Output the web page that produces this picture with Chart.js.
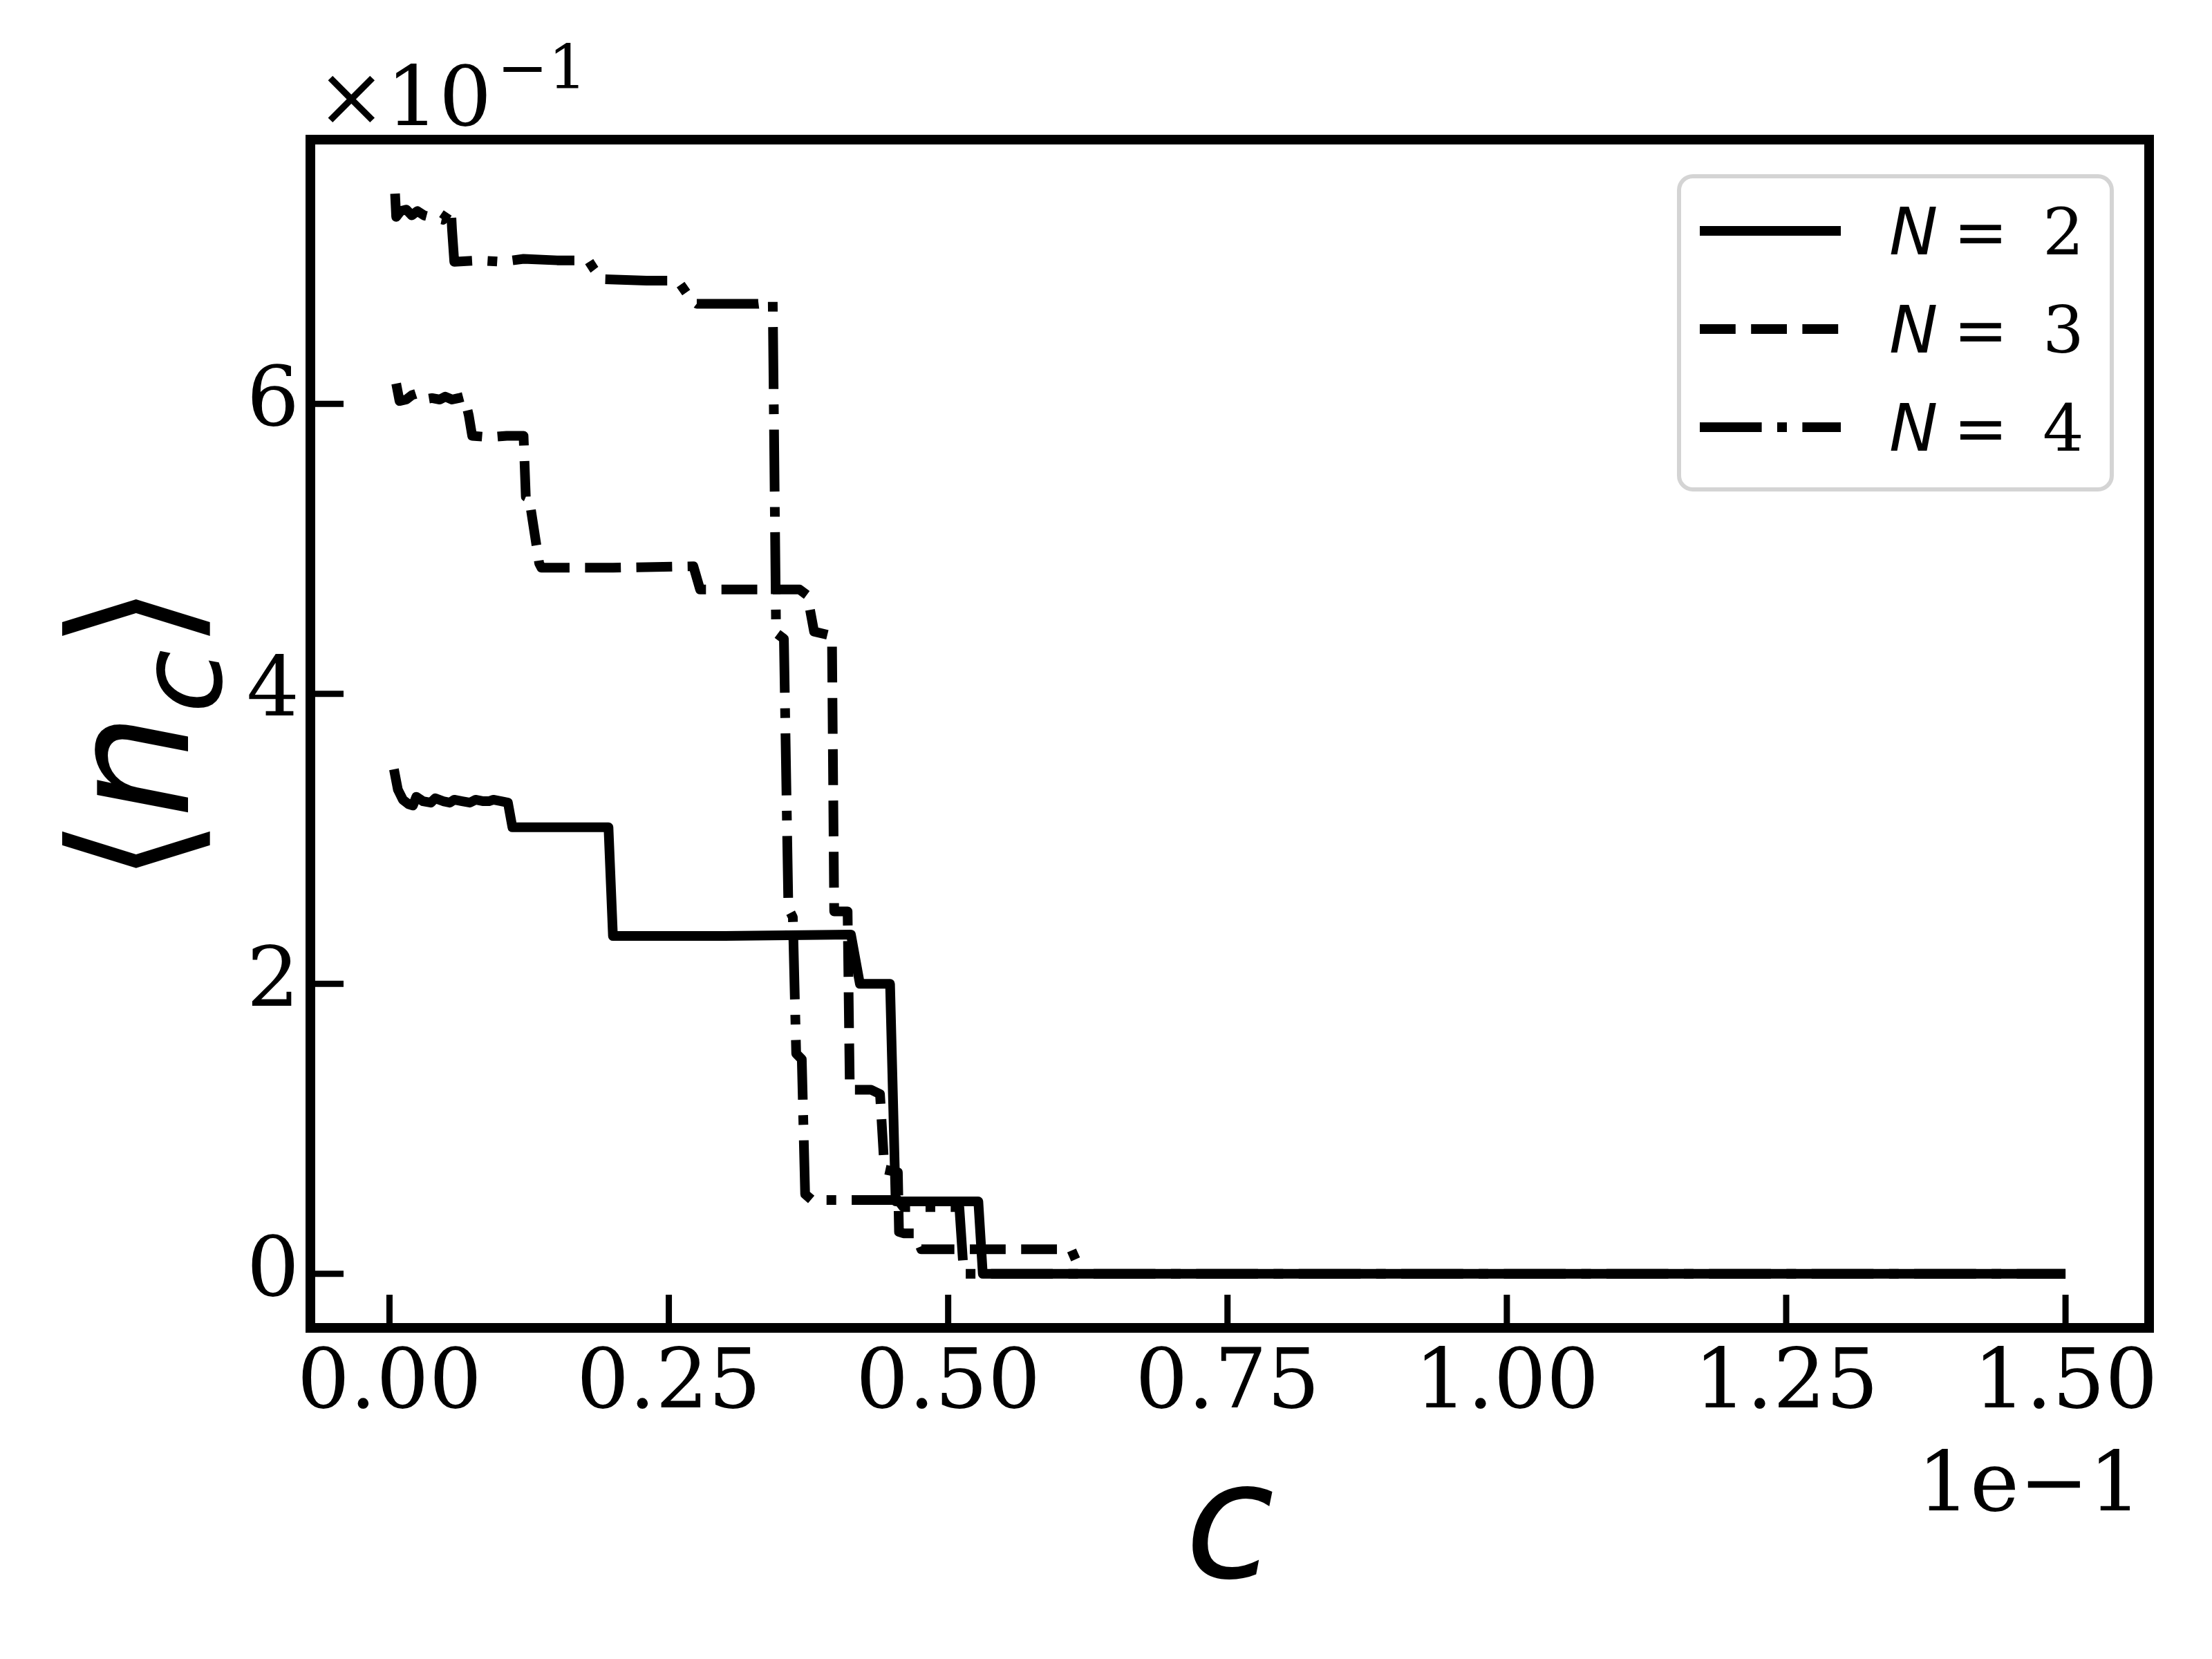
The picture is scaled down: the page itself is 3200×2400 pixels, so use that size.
<!DOCTYPE html>
<html>
<head>
<meta charset="utf-8">
<script src="https://cdn.jsdelivr.net/npm/chart.js@4.4.0/dist/chart.umd.min.js"></script>
<style>
    html, body { margin: 0; padding: 0; background: #fff; overflow: hidden; }
    canvas { display: block; }
</style>
</head>
<body>
<canvas id="myChart" width="3200" height="2400"></canvas>
<script>
// nilai (satuan sumbu: x dalam 1e-1, y dalam 1e-1)
const cN2 = [0.004, 0.0075, 0.012, 0.017, 0.021, 0.024, 0.030, 0.037, 0.041, 0.048, 0.054, 0.058, 0.065, 0.072, 0.077, 0.084, 0.089, 0.093, 0.100, 0.106, 0.110, 0.150, 0.196, 0.200, 0.300, 0.413, 0.421, 0.448, 0.453, 0.527, 0.531, 1.500];
const nN2 = [3.48, 3.34, 3.27, 3.24, 3.23, 3.29, 3.26, 3.25, 3.28, 3.26, 3.25, 3.27, 3.26, 3.25, 3.27, 3.26, 3.26, 3.27, 3.26, 3.25, 3.08, 3.08, 3.08, 2.33, 2.33, 2.34, 2.00, 2.00, 0.50, 0.50, 0.00, 0.00];

const cN3 = [0.006, 0.009, 0.015, 0.020, 0.024, 0.030, 0.038, 0.045, 0.050, 0.056, 0.062, 0.067, 0.071, 0.074, 0.090, 0.105, 0.120, 0.122, 0.125, 0.134, 0.136, 0.200, 0.272, 0.278, 0.320, 0.367, 0.374, 0.380, 0.396, 0.398, 0.410, 0.412, 0.431, 0.439, 0.443, 0.455, 0.456, 0.460, 0.470, 0.476, 0.610, 0.614];
const nN3 = [6.14, 6.02, 6.03, 6.06, 6.07, 6.03, 6.04, 6.03, 6.05, 6.03, 6.04, 6.05, 5.92, 5.78, 5.77, 5.78, 5.78, 5.36, 5.35, 4.90, 4.87, 4.87, 4.88, 4.72, 4.72, 4.72, 4.68, 4.43, 4.40, 2.50, 2.50, 1.27, 1.27, 1.24, 0.72, 0.70, 0.29, 0.28, 0.28, 0.17, 0.17, 0.10];

const cN4 = [0.005, 0.006, 0.010, 0.015, 0.020, 0.025, 0.031, 0.036, 0.048, 0.055, 0.056, 0.058, 0.080, 0.100, 0.120, 0.150, 0.178, 0.183, 0.190, 0.230, 0.258, 0.270, 0.275, 0.330, 0.340, 0.343, 0.346, 0.353, 0.357, 0.361, 0.364, 0.369, 0.372, 0.378, 0.455, 0.460, 0.510, 0.514, 1.500];
const nN4 = [7.45, 7.29, 7.33, 7.34, 7.30, 7.33, 7.30, 7.29, 7.27, 7.35, 7.20, 6.98, 6.99, 6.98, 7.00, 6.99, 6.99, 6.93, 6.86, 6.85, 6.85, 6.72, 6.69, 6.69, 6.70, 6.71, 4.42, 4.38, 2.52, 2.46, 1.52, 1.48, 0.55, 0.51, 0.51, 0.46, 0.46, 0.00, 0.00];

const nValues = [2, 3, 4];
const xTicks = [0, 0.25, 0.5, 0.75, 1.0, 1.25, 1.5];
const yTicks = [0, 2, 4, 6];

const LW = 14;
const dashStyles = [[], [3.7 * LW, 1.6 * LW], [6.4 * LW, 1.6 * LW, 1 * LW, 1.6 * LW]];

// batas sumbu seperti matplotlib (margin 5%)
const allX = cN2.concat(cN3, cN4);
const allY = nN2.concat(nN3, nN4);
const xLo = Math.min(...allX), xHi = Math.max(...allX);
const yLo = Math.min(...allY), yHi = Math.max(...allY);
const xPad = 0.05 * (xHi - xLo), yPad = 0.05 * (yHi - yLo);

function toPoints(xs, ys) {
    return xs.map((x, i) => ({ x: x, y: ys[i] }));
}

const series = [toPoints(cN2, nN2), toPoints(cN3, nN3), toPoints(cN4, nN4)];

// bingkai, tick ke dalam, teks offset, label sumbu dan legenda
const decorPlugin = {
    id: 'decor',
    afterDraw(chart) {
        const ctx = chart.ctx;
        const a = chart.chartArea;
        const xs = chart.scales.x, ys = chart.scales.y;
        ctx.save();
        ctx.strokeStyle = '#000';
        ctx.fillStyle = '#000';

        // tick
        ctx.lineWidth = 9;
        ctx.lineCap = 'butt';
        xTicks.forEach(v => {
            const px = xs.getPixelForValue(v);
            ctx.beginPath();
            ctx.moveTo(px, a.bottom);
            ctx.lineTo(px, a.bottom - 48);
            ctx.stroke();
        });
        yTicks.forEach(v => {
            const py = ys.getPixelForValue(v);
            ctx.beginPath();
            ctx.moveTo(a.left, py);
            ctx.lineTo(a.left + 48, py);
            ctx.stroke();
        });

        // bingkai
        ctx.lineWidth = 14;
        ctx.lineJoin = 'miter';
        ctx.strokeRect(a.left, a.top, a.right - a.left, a.bottom - a.top);

        // teks offset
        ctx.textAlign = 'left';
        ctx.textBaseline = 'alphabetic';
        ctx.font = '120px "DejaVu Serif"';
        ctx.fillText('\u00d710', 458, 181);
        const w10 = ctx.measureText('\u00d710').width;
        ctx.font = '88px "DejaVu Serif"';
        ctx.fillText('\u22121', 458 + w10 + 8, 128);

        ctx.font = '120px "DejaVu Serif"';
        ctx.textAlign = 'right';
        ctx.fillText('1e\u22121', 3098, 2185);

        // label sumbu x
        ctx.textAlign = 'center';
        ctx.font = 'italic 235px "DejaVu Sans"';
        ctx.fillText('c', (a.left + a.right) / 2, 2282);

        // label sumbu y: <n_c>
        ctx.save();
        ctx.translate(272, (a.top + a.bottom) / 2);
        ctx.rotate(-Math.PI / 2);
        ctx.textAlign = 'left';
        const F = 240;
        const parts = [
            { t: '\u27e8', f: F + 'px "DejaVu Sans"', dy: 0 },
            { t: 'n', f: 'italic ' + F + 'px "DejaVu Sans"', dy: 0 },
            { t: 'c', f: 'italic ' + Math.round(F * 0.7) + 'px "DejaVu Sans"', dy: F * 0.2 },
            { t: '\u27e9', f: F + 'px "DejaVu Sans"', dy: 0 }
        ];
        let total = 0;
        parts.forEach(p => { ctx.font = p.f; p.w = ctx.measureText(p.t).width; total += p.w; });
        let cx = -total / 2;
        parts.forEach(p => {
            ctx.font = p.f;
            ctx.fillText(p.t, cx, p.dy);
            cx += p.w;
        });
        ctx.restore();

        // legenda
        const lx = 2429, ly = 255, lw = 626, lh = 453, r = 20;
        ctx.beginPath();
        ctx.roundRect(lx, ly, lw, lh, r);
        ctx.fillStyle = 'rgba(255,255,255,0.8)';
        ctx.fill();
        ctx.lineWidth = 6;
        ctx.strokeStyle = '#d4d4d4';
        ctx.stroke();

        ctx.strokeStyle = '#000';
        ctx.fillStyle = '#000';
        nValues.forEach((n, i) => {
            const yc = 334 + i * 142;
            ctx.lineWidth = LW;
            ctx.lineCap = 'butt';
            ctx.setLineDash(dashStyles[i]);
            ctx.beginPath();
            ctx.moveTo(2459, yc);
            ctx.lineTo(2663, yc);
            ctx.stroke();
            ctx.setLineDash([]);

            const base = yc + 34;
            ctx.textAlign = 'left';
            ctx.font = 'italic 94px "DejaVu Sans"';
            ctx.fillText('N', 2733, base);
            ctx.font = '94px "DejaVu Sans"';
            ctx.fillText('=', 2826, base);
            ctx.font = '94px "DejaVu Serif"';
            ctx.fillText(String(n), 2955, base);
        });
        ctx.restore();
    }
};

const ctx = document.getElementById('myChart').getContext('2d');
const myChart = new Chart(ctx, {
    type: 'line',
    data: {
        datasets: series.map((pts, i) => ({
            label: 'N = ' + nValues[i],
            data: pts,
            borderColor: '#000',
            backgroundColor: '#000',
            borderWidth: LW,
            borderDash: dashStyles[i],
            borderCapStyle: 'butt',
            borderJoinStyle: 'round',
            pointRadius: 0,
            tension: 0,
            fill: false
        }))
    },
    options: {
        responsive: false,
        animation: false,
        devicePixelRatio: 1,
        layout: { padding: { top: 202, right: 91, left: 0, bottom: 0 } },
        plugins: {
            legend: { display: false },
            tooltip: { enabled: false }
        },
        scales: {
            x: {
                type: 'linear',
                min: xLo - xPad,
                max: xHi + xPad,
                grid: { display: false, drawTicks: false },
                border: { display: false },
                ticks: {
                    color: '#000',
                    font: { family: 'DejaVu Serif', size: 120 },
                    padding: 12,
                    maxRotation: 0,
                    autoSkip: false,
                    callback: v => v.toFixed(2)
                },
                afterBuildTicks: s => { s.ticks = xTicks.map(v => ({ value: v })); },
                afterFit: s => { s.height = 479; }
            },
            y: {
                type: 'linear',
                min: yLo - yPad,
                max: yHi + yPad,
                grid: { display: false, drawTicks: false },
                border: { display: false },
                ticks: {
                    color: '#000',
                    font: { family: 'DejaVu Serif', size: 120 },
                    padding: 16,
                    autoSkip: false,
                    callback: v => String(v)
                },
                afterBuildTicks: s => { s.ticks = yTicks.map(v => ({ value: v })); },
                afterFit: s => { s.width = 449; }
            }
        }
    },
    plugins: [decorPlugin]
});
</script>
</body>
</html>
